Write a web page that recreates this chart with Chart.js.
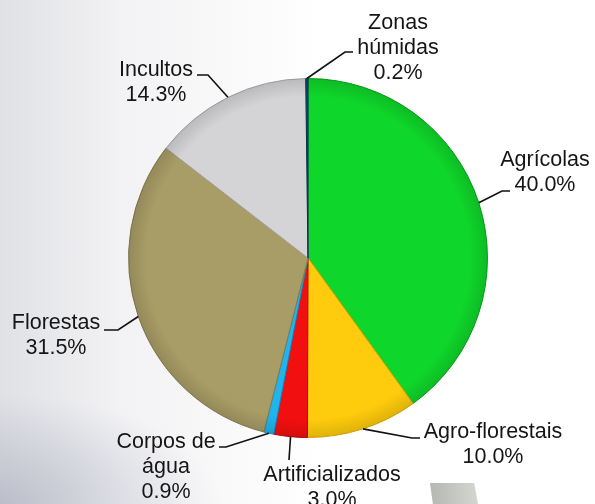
<!DOCTYPE html>
<html>
<head>
<meta charset="utf-8">
<script src="https://cdn.jsdelivr.net/npm/chart.js@4"></script>
<style>
  html, body { margin: 0; padding: 0; }
  body {
    width: 595px; height: 504px; overflow: hidden; position: relative;
    background:
      radial-gradient(ellipse 220px 110px at 0px 504px, rgba(150,155,175,0.5), rgba(150,155,175,0) 100%),
      linear-gradient(90deg, #e0e1e5 0px, #f2f2f4 120px, #ffffff 320px, #ffffff 595px);
  }
  #deco {
    position: absolute; left: 430px; top: 483px; width: 48px; height: 21px;
    background: linear-gradient(90deg, #b5b7b2, #d4d6d1);
    clip-path: polygon(0 0, 92% 0, 100% 100%, 6% 100%);
  }
  #landUse { position: absolute; left: 0; top: 0; }
</style>
</head>
<body>
<div id="deco"></div>
<canvas id="landUse" width="595" height="504"></canvas>
<script>
// land use shares, clockwise from 12 o'clock
const categories = ["Agrícolas", "Agro-florestais", "Artificializados", "Corpos de água", "Florestas", "Incultos", "Zonas húmidas"];
const shares = [40.0, 10.0, 3.0, 0.9, 31.5, 14.3, 0.2];
const sliceColors = ["#0fd62a", "#ffcb0c", "#f20f0f", "#1fb4ee", "#a89d66", "#d4d4d6", "#0c4d7a"];
const edgeColors = ["#0aa01e", "#d9a800", "#b80808", "#1189bb", "#847a4c", "#a8a8ab", "#08314f"];

// label placement: text lines, text centre x, first line centre y, leader points after the arc edge
const labelSpots = [
  { lines: ["Agrícolas"], cx: 545, cy: 160, leader: [[502, 191], [510, 191]] },
  { lines: ["Agro-florestais"], cx: 493, cy: 432, leader: [[412, 438], [420, 438]] },
  { lines: ["Artificializados"], cx: 332, cy: 475, leader: [[289, 460]] },
  { lines: ["Corpos de", "água"], cx: 166, cy: 442, leader: [[226, 447], [219, 447]] },
  { lines: ["Florestas"], cx: 56, cy: 323, leader: [[118, 330], [104, 330]] },
  { lines: ["Incultos"], cx: 156, cy: 70, leader: [[208, 75], [197, 75]] },
  { lines: ["Zonas", "húmidas"], cx: 398, cy: 23, leader: [[345, 52], [353, 52]] }
];

const calloutPlugin = {
  id: "callouts",
  afterDatasetsDraw(chart) {
    const c = chart.ctx;
    const arcs = chart.getDatasetMeta(0).data;

    // soft darkening toward the rim
    const a0 = arcs[0];
    const g = c.createRadialGradient(a0.x, a0.y, a0.outerRadius * 0.9, a0.x, a0.y, a0.outerRadius);
    g.addColorStop(0, "rgba(0,0,0,0)");
    g.addColorStop(1, "rgba(0,0,0,0.12)");
    c.save();
    c.beginPath();
    c.arc(a0.x, a0.y, a0.outerRadius, 0, Math.PI * 2);
    c.fillStyle = g;
    c.fill();
    c.restore();

    c.save();
    c.strokeStyle = "#111";
    c.lineWidth = 1.6;
    c.fillStyle = "#151515";
    c.font = "21.5px 'Liberation Sans', Arial, sans-serif";
    c.textAlign = "center";
    c.textBaseline = "middle";
    arcs.forEach((arc, i) => {
      const spot = labelSpots[i];
      const mid = (arc.startAngle + arc.endAngle) / 2;
      c.beginPath();
      c.moveTo(arc.x + Math.cos(mid) * arc.outerRadius, arc.y + Math.sin(mid) * arc.outerRadius);
      spot.leader.forEach((p) => c.lineTo(p[0], p[1]));
      c.stroke();
      const text = spot.lines.concat([shares[i].toFixed(1) + "%"]);
      text.forEach((t, k) => c.fillText(t, spot.cx, spot.cy + k * 25));
    });
    c.restore();
  }
};

new Chart(document.getElementById("landUse"), {
  type: "pie",
  data: {
    labels: categories,
    datasets: [{
      data: shares,
      backgroundColor: sliceColors,
      borderColor: edgeColors,
      borderWidth: 1
    }]
  },
  options: {
    responsive: false,
    animation: false,
    layout: { padding: { left: 128, right: 107, top: 78, bottom: 66 } },
    plugins: {
      legend: { display: false },
      tooltip: { enabled: false }
    }
  },
  plugins: [calloutPlugin]
});
</script>
</body>
</html>
